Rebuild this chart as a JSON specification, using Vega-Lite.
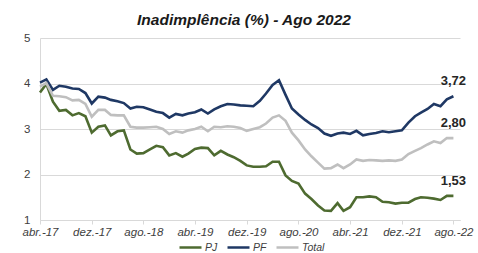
{
  "$schema": "https://vega.github.io/schema/vega-lite/v6.json",
  "width": 420,
  "height": 182,
  "autosize": "none",
  "padding": {"left": 40, "top": 38, "right": 18, "bottom": 33},
  "background": "white",
  "config": {
    "view": {"stroke": null},
    "font": "Liberation Sans"
  },
  "title": {
    "text": "Inadimplência (%) - Ago 2022",
    "font": "Liberation Sans",
    "fontSize": 15.5,
    "fontWeight": "bold",
    "fontStyle": "italic",
    "color": "#1a1a1a",
    "anchor": "middle",
    "dx": -6,
    "offset": 4
  },
  "data": {
    "values": [
      {"d": "2017-04-01", "PJ": 3.80, "PF": 4.02, "Total": 3.93},
      {"d": "2017-05-01", "PJ": 3.99, "PF": 4.09, "Total": 4.01},
      {"d": "2017-06-01", "PJ": 3.60, "PF": 3.86, "Total": 3.73},
      {"d": "2017-07-01", "PJ": 3.40, "PF": 3.95, "Total": 3.72},
      {"d": "2017-08-01", "PJ": 3.42, "PF": 3.93, "Total": 3.70},
      {"d": "2017-09-01", "PJ": 3.30, "PF": 3.89, "Total": 3.63},
      {"d": "2017-10-01", "PJ": 3.35, "PF": 3.88, "Total": 3.64},
      {"d": "2017-11-01", "PJ": 3.28, "PF": 3.79, "Total": 3.55},
      {"d": "2017-12-01", "PJ": 2.92, "PF": 3.56, "Total": 3.27},
      {"d": "2018-01-01", "PJ": 3.05, "PF": 3.71, "Total": 3.42},
      {"d": "2018-02-01", "PJ": 3.08, "PF": 3.69, "Total": 3.42},
      {"d": "2018-03-01", "PJ": 2.86, "PF": 3.64, "Total": 3.31},
      {"d": "2018-04-01", "PJ": 2.95, "PF": 3.61, "Total": 3.30},
      {"d": "2018-05-01", "PJ": 2.97, "PF": 3.57, "Total": 3.30},
      {"d": "2018-06-01", "PJ": 2.55, "PF": 3.45, "Total": 3.05},
      {"d": "2018-07-01", "PJ": 2.46, "PF": 3.49, "Total": 3.03},
      {"d": "2018-08-01", "PJ": 2.47, "PF": 3.48, "Total": 3.03},
      {"d": "2018-09-01", "PJ": 2.55, "PF": 3.43, "Total": 3.04},
      {"d": "2018-10-01", "PJ": 2.63, "PF": 3.38, "Total": 3.05},
      {"d": "2018-11-01", "PJ": 2.60, "PF": 3.35, "Total": 3.00},
      {"d": "2018-12-01", "PJ": 2.42, "PF": 3.25, "Total": 2.89},
      {"d": "2019-01-01", "PJ": 2.47, "PF": 3.33, "Total": 2.95},
      {"d": "2019-02-01", "PJ": 2.39, "PF": 3.30, "Total": 2.92},
      {"d": "2019-03-01", "PJ": 2.46, "PF": 3.34, "Total": 2.97},
      {"d": "2019-04-01", "PJ": 2.56, "PF": 3.37, "Total": 3.00},
      {"d": "2019-05-01", "PJ": 2.59, "PF": 3.43, "Total": 3.05},
      {"d": "2019-06-01", "PJ": 2.58, "PF": 3.34, "Total": 2.95},
      {"d": "2019-07-01", "PJ": 2.42, "PF": 3.43, "Total": 3.05},
      {"d": "2019-08-01", "PJ": 2.52, "PF": 3.50, "Total": 3.04},
      {"d": "2019-09-01", "PJ": 2.44, "PF": 3.55, "Total": 3.06},
      {"d": "2019-10-01", "PJ": 2.38, "PF": 3.54, "Total": 3.05},
      {"d": "2019-11-01", "PJ": 2.30, "PF": 3.52, "Total": 3.02},
      {"d": "2019-12-01", "PJ": 2.20, "PF": 3.51, "Total": 2.96},
      {"d": "2020-01-01", "PJ": 2.17, "PF": 3.50, "Total": 3.00},
      {"d": "2020-02-01", "PJ": 2.17, "PF": 3.62, "Total": 3.04},
      {"d": "2020-03-01", "PJ": 2.18, "PF": 3.78, "Total": 3.12},
      {"d": "2020-04-01", "PJ": 2.28, "PF": 3.97, "Total": 3.25},
      {"d": "2020-05-01", "PJ": 2.28, "PF": 4.07, "Total": 3.30},
      {"d": "2020-06-01", "PJ": 1.98, "PF": 3.75, "Total": 3.18},
      {"d": "2020-07-01", "PJ": 1.86, "PF": 3.45, "Total": 2.92},
      {"d": "2020-08-01", "PJ": 1.80, "PF": 3.32, "Total": 2.75},
      {"d": "2020-09-01", "PJ": 1.58, "PF": 3.20, "Total": 2.55},
      {"d": "2020-10-01", "PJ": 1.46, "PF": 3.10, "Total": 2.40},
      {"d": "2020-11-01", "PJ": 1.32, "PF": 3.02, "Total": 2.26},
      {"d": "2020-12-01", "PJ": 1.21, "PF": 2.90, "Total": 2.13},
      {"d": "2021-01-01", "PJ": 1.20, "PF": 2.85, "Total": 2.14},
      {"d": "2021-02-01", "PJ": 1.37, "PF": 2.90, "Total": 2.22},
      {"d": "2021-03-01", "PJ": 1.20, "PF": 2.92, "Total": 2.14},
      {"d": "2021-04-01", "PJ": 1.28, "PF": 2.89, "Total": 2.22},
      {"d": "2021-05-01", "PJ": 1.50, "PF": 2.96, "Total": 2.33},
      {"d": "2021-06-01", "PJ": 1.50, "PF": 2.86, "Total": 2.30},
      {"d": "2021-07-01", "PJ": 1.52, "PF": 2.89, "Total": 2.32},
      {"d": "2021-08-01", "PJ": 1.50, "PF": 2.91, "Total": 2.31},
      {"d": "2021-09-01", "PJ": 1.40, "PF": 2.95, "Total": 2.30},
      {"d": "2021-10-01", "PJ": 1.39, "PF": 2.93, "Total": 2.31},
      {"d": "2021-11-01", "PJ": 1.36, "PF": 2.95, "Total": 2.30},
      {"d": "2021-12-01", "PJ": 1.38, "PF": 2.97, "Total": 2.33},
      {"d": "2022-01-01", "PJ": 1.38, "PF": 3.14, "Total": 2.45},
      {"d": "2022-02-01", "PJ": 1.46, "PF": 3.28, "Total": 2.52},
      {"d": "2022-03-01", "PJ": 1.50, "PF": 3.36, "Total": 2.58},
      {"d": "2022-04-01", "PJ": 1.49, "PF": 3.44, "Total": 2.66},
      {"d": "2022-05-01", "PJ": 1.47, "PF": 3.55, "Total": 2.73},
      {"d": "2022-06-01", "PJ": 1.44, "PF": 3.50, "Total": 2.69},
      {"d": "2022-07-01", "PJ": 1.53, "PF": 3.65, "Total": 2.80},
      {"d": "2022-08-01", "PJ": 1.53, "PF": 3.72, "Total": 2.80}
    ]
  },
  "transform": [
    {"fold": ["PJ", "PF", "Total"], "as": ["serie", "valor"]}
  ],
  "encoding": {
    "x": {
      "field": "d",
      "type": "temporal",
      "title": null,
      "scale": {
        "type": "utc",
        "domain": [
          {"year": 2017, "month": 4, "date": 1, "utc": true},
          {"year": 2022, "month": 9, "date": 1, "utc": true}
        ]
      },
      "axis": {
        "values": [
          {"year": 2017, "month": 4, "date": 1, "utc": true},
          {"year": 2017, "month": 12, "date": 1, "utc": true},
          {"year": 2018, "month": 8, "date": 1, "utc": true},
          {"year": 2019, "month": 4, "date": 1, "utc": true},
          {"year": 2019, "month": 12, "date": 1, "utc": true},
          {"year": 2020, "month": 8, "date": 1, "utc": true},
          {"year": 2021, "month": 4, "date": 1, "utc": true},
          {"year": 2021, "month": 12, "date": 1, "utc": true},
          {"year": 2022, "month": 8, "date": 1, "utc": true}
        ],
        "labelExpr": "['jan.','fev.','mar.','abr.','mai.','jun.','jul.','ago.','set.','out.','nov.','dez.'][utcmonth(datum.value)] + '-' + utcFormat(datum.value, '%y')",
        "labelFont": "Liberation Sans",
        "labelFontSize": 11.5,
        "labelFontStyle": "italic",
        "labelColor": "#404040",
        "labelPadding": 2,
        "labelFlush": false,
        "labelOverlap": false,
        "grid": false,
        "domainColor": "#d9d9d9",
        "tickColor": "#d9d9d9",
        "tickSize": 4,
        "ticks": true
      }
    },
    "y": {
      "field": "valor",
      "type": "quantitative",
      "title": null,
      "scale": {"domain": [1, 5], "nice": false, "zero": false},
      "axis": {
        "values": [1, 2, 3, 4, 5],
        "format": "d",
        "labelFont": "Liberation Sans",
        "labelFontSize": 11.5,
        "labelColor": "#404040",
        "labelPadding": 10,
        "ticks": false,
        "grid": true,
        "gridColor": "#d9d9d9",
        "domainColor": "#d9d9d9"
      }
    }
  },
  "layer": [
    {
      "mark": {"type": "line", "strokeWidth": 2.6, "interpolate": "linear"},
      "encoding": {
        "color": {
          "field": "serie",
          "type": "nominal",
          "scale": {"domain": ["PJ", "PF", "Total"], "range": ["#4E6B30", "#1F3864", "#BFBFBF"]},
          "legend": {
            "title": null,
            "orient": "none",
            "direction": "horizontal",
            "legendX": 138,
            "legendY": 197,
            "symbolType": "stroke",
            "symbolSize": 484,
            "symbolStrokeWidth": 2.5,
            "labelFont": "Liberation Sans",
            "labelFontSize": 10.5,
            "labelFontStyle": "italic",
            "labelColor": "#404040",
            "labelOffset": 2,
            "columnPadding": 4,
            "gridAlign": "none"
          }
        }
      }
    },
    {
      "transform": [
        {"filter": "utcyear(datum.d) == 2022 && utcmonth(datum.d) == 7"},
        {"calculate": "replace(format(datum.valor, '.2f'), '.', ',')", "as": "rotulo"}
      ],
      "mark": {
        "type": "text",
        "dy": -15,
        "align": "center",
        "font": "Liberation Sans",
        "fontSize": 13,
        "fontWeight": "bold",
        "color": "#262626"
      },
      "encoding": {
        "text": {"field": "rotulo"}
      }
    }
  ]
}
